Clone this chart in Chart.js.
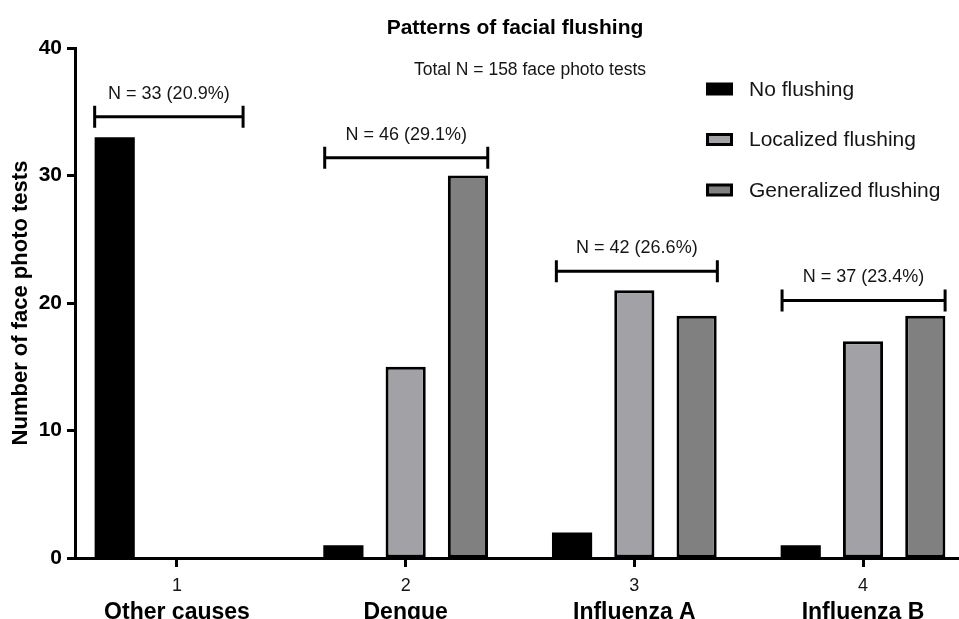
<!DOCTYPE html>
<html><head><meta charset="utf-8">
<script src="https://cdn.jsdelivr.net/npm/chart.js@4/dist/chart.umd.min.js"></script>
<style>html,body{margin:0;padding:0;background:#fff;overflow:hidden}#wrap{width:959px;height:619px;position:relative}</style>
</head><body><div id="wrap"><canvas id="c" width="959" height="619"></canvas></div>
<script>
const groupNumbers = [1, 2, 3, 4];
const categories = ['Other causes', 'Dengue', 'Influenza A', 'Influenza B'];
const seriesNames = ['No flushing', 'Localized flushing', 'Generalized flushing'];
const noFlushing = [33, 1, 2, 1];
const localizedFlushing = [0, 15, 21, 17];
const generalizedFlushing = [0, 30, 19, 19];
const groupLabels = ['N = 33 (20.9%)', 'N = 46 (29.1%)', 'N = 42 (26.6%)', 'N = 37 (23.4%)'];
const bracketLevels = [34.6, 31.4, 22.5, 20.2];
const bracketStart = [0.64, 1.646, 2.659, 3.646];
const bracketEnd = [1.289, 2.359, 3.363, 4.359];
const yTicks = [0, 10, 20, 30, 40];
const chartTitle = 'Patterns of facial flushing';
const chartSubtitle = 'Total N = 158 face photo tests';
const yTitle = 'Number of face photo tests';

const FAM = "'Liberation Sans', Arial, sans-serif";
const colors = ['#000000', '#a2a2a6', '#808080'];
const borderWidths = [0, 3, 3];
Chart.defaults.font.family = FAM;
Chart.defaults.color = '#000';

const seriesValues = [noFlushing, localizedFlushing, generalizedFlushing];
const datasets = seriesNames.map((name, s) => ({
  label: name,
  data: groupNumbers.map((g, i) => ({x: g, y: seriesValues[s][i]})),
  backgroundColor: colors[s],
  borderColor: '#000',
  borderWidth: borderWidths[s],
  borderSkipped: false,
  categoryPercentage: 0.817,
  barPercentage: 0.645
}));

const setTicks = s => { s.ticks = groupNumbers.map(v => ({value: v})); };

const annot = {
  id: 'annot',
  afterDraw(chart) {
    const {ctx, scales: {x, y}} = chart;
    ctx.save();
    ctx.strokeStyle = '#000';
    ctx.lineWidth = 3;
    ctx.fillStyle = '#151515';
    ctx.textAlign = 'center';
    ctx.textBaseline = 'middle';
    ctx.font = "18px " + FAM;
    for (let i = 0; i < groupLabels.length; i++) {
      const x0 = x.getPixelForValue(bracketStart[i]);
      const x1 = x.getPixelForValue(bracketEnd[i]);
      const yy = y.getPixelForValue(bracketLevels[i]);
      ctx.beginPath();
      ctx.moveTo(x0, yy); ctx.lineTo(x1, yy);
      ctx.moveTo(x0, yy - 11); ctx.lineTo(x0, yy + 11);
      ctx.moveTo(x1, yy - 11); ctx.lineTo(x1, yy + 11);
      ctx.stroke();
      ctx.fillText(groupLabels[i], (x0 + x1) / 2, yy - 23);
    }
    // legend
    ctx.textAlign = 'left';
    ctx.font = "21px " + FAM;
    seriesNames.forEach((name, s) => {
      const cy = 89 + s * 50.5;
      ctx.fillStyle = colors[s];
      ctx.fillRect(707.5, cy - 5, 24, 10);
      ctx.strokeStyle = '#000';
      ctx.lineWidth = 3;
      ctx.strokeRect(707.5, cy - 5, 24, 10);
      ctx.fillStyle = '#151515';
      ctx.fillText(name, 749, cy + 1);
    });
    // titles
    ctx.textAlign = 'center';
    ctx.fillStyle = '#000';
    ctx.font = "bold 21px " + FAM;
    ctx.fillText(chartTitle, 515, 28);
    ctx.fillStyle = '#151515';
    ctx.font = "17.5px " + FAM;
    ctx.fillText(chartSubtitle, 530, 70);
    ctx.restore();
  }
};

new Chart(document.getElementById('c'), {
  type: 'bar',
  data: {datasets},
  options: {
    responsive: false,
    animation: false,
    devicePixelRatio: 1,
    layout: {padding: {top: 48, right: 1, left: 0, bottom: 0}},
    plugins: {legend: {display: false}, tooltip: {enabled: false}, title: {display: false}},
    scales: {
      x: {
        type: 'linear', position: 'bottom', offset: false,
        min: 0.554, max: 4.4154,
        afterBuildTicks: setTicks,
        afterFit: s => { s.height = 34; },
        grid: {offset: false, drawOnChartArea: false, drawTicks: true, tickLength: 9, tickWidth: 3, tickColor: '#000'},
        border: {display: true, color: '#000', width: 3},
        ticks: {font: {size: 18}, color: '#151515', padding: 8, callback: v => String(v), maxRotation: 0, autoSkip: false}
      },
      x2: {
        type: 'linear', position: 'bottom', offset: false,
        min: 0.554, max: 4.4154,
        afterBuildTicks: setTicks,
        afterFit: s => { s.height = 27; },
        grid: {offset: false, display: false, drawTicks: false},
        border: {display: false},
        ticks: {font: {size: 23, weight: 'bold'}, color: '#000', padding: 7, maxRotation: 0, autoSkip: false,
                callback: v => categories[groupNumbers.indexOf(v)] || ''}
      },
      y: {
        min: 0, max: 40,
        afterBuildTicks: s => { s.ticks = yTicks.map(v => ({value: v})); },
        afterFit: s => { s.width = 75; },
        grid: {drawOnChartArea: false, drawTicks: true, tickLength: 8, tickWidth: 3, tickColor: '#000'},
        border: {display: true, color: '#000', width: 3},
        ticks: {font: {size: 21, weight: 'bold'}, color: '#000', padding: 5},
        title: {display: true, text: yTitle, font: {size: 22, weight: 'bold'}, color: '#000', padding: {top: 8, bottom: 0}}
      }
    }
  },
  plugins: [annot]
});
</script></body></html>
